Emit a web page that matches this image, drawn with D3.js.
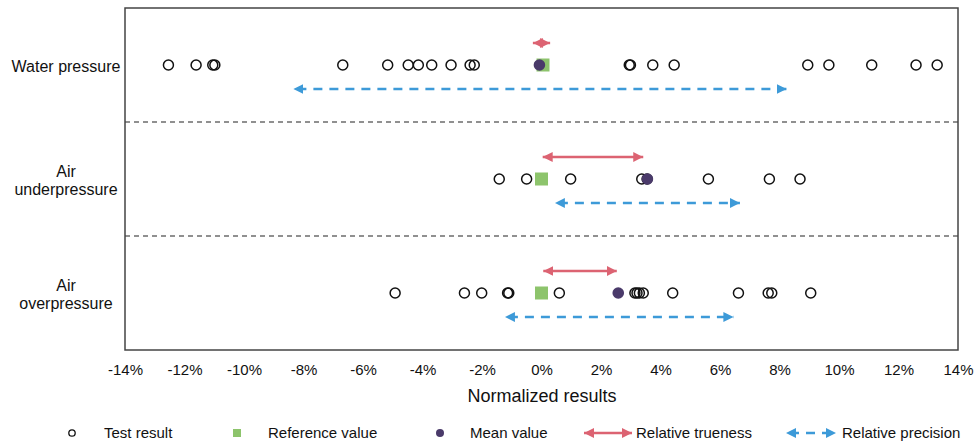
<!DOCTYPE html>
<html><head><meta charset="utf-8">
<script src="https://cdn.jsdelivr.net/npm/d3@7"></script>
<style>
body{margin:0;background:#fff;}
text{font-family:"Liberation Sans",Arial,sans-serif;fill:#111;}
</style></head>
<body><svg id="c" width="974" height="443"></svg>
<script>
const categories = ["Water pressure","Air underpressure","Air overpressure"];
const categoryLines = [["Water pressure"],["Air","underpressure"],["Air","overpressure"]];
const testResults = [
  [-12.54,-11.61,-11.05,-10.98,-6.68,-5.17,-4.48,-4.14,-3.69,-3.04,-2.40,-2.26,2.95,2.99,3.74,4.46,8.95,9.66,11.10,12.59,13.30],
  [-1.42,-0.50,0.98,3.37,3.55,5.61,7.66,8.69],
  [-4.92,-2.59,-2.01,-1.14,-1.10,0.60,3.14,3.21,3.29,3.42,4.41,6.62,7.62,7.74,9.05]
];
const referenceValues = [0.05,0.0,0.0];
const meanValues = [-0.07,3.56,2.58];
const truenessRange = [[-0.29,0.29],[0.04,3.42],[0.06,2.53]];
const precisionRange = [[-8.34,8.24],[0.45,6.67],[-1.23,6.45]];
const xTicks = [-14,-12,-10,-8,-6,-4,-2,0,2,4,6,8,10,12,14];
const legendItems = ["Test result","Reference value","Mean value","Relative trueness","Relative precision"];

const red = "#dc6372", blue = "#3d9ad8", green = "#8dc46c", purple = "#4a3a6a";
const svg = d3.select("#c");
const x = d3.scaleLinear().domain([-14,14]).range([125,958]);
const y = d3.scaleBand().domain(categories).range([8,350]);
const yc = c => y(c) + y.bandwidth()/2;

const defs = svg.append("defs");
function marker(id,color,orient){
  defs.append("marker").attr("id",id).attr("viewBox","0 0 10 10").attr("refX",10).attr("refY",5)
    .attr("markerWidth",4).attr("markerHeight",4).attr("markerUnits","strokeWidth").attr("orient",orient)
    .append("path").attr("d","M0,0L10,5L0,10z").attr("fill",color);
}
marker("rE",red,"auto"); marker("rS",red,"auto-start-reverse");
marker("bE",blue,"auto"); marker("bS",blue,"auto-start-reverse");

// separators
categories.slice(1).forEach(c=>{
  svg.append("line").attr("x1",125).attr("x2",958).attr("y1",y(c)).attr("y2",y(c))
    .attr("stroke","#222").attr("stroke-width",1.2).attr("stroke-dasharray","5,4");
});

// category labels
categories.forEach((c,i)=>{
  const lines = categoryLines[i];
  const t = svg.append("text").attr("text-anchor","middle").attr("font-size",16);
  const y0 = yc(c) + 6.5 - (lines.length-1)*8.5;
  lines.forEach((l,j)=>t.append("tspan").attr("x",66).attr("y",y0 + j*18).text(l));
});

categories.forEach((c,i)=>{
  const cy = yc(c);
  // trueness
  svg.append("line").attr("x1",x(truenessRange[i][0])).attr("x2",x(truenessRange[i][1]))
    .attr("y1",cy-22).attr("y2",cy-22).attr("stroke",red).attr("stroke-width",2.5)
    .attr("marker-start","url(#rS)").attr("marker-end","url(#rE)");
  // precision
  svg.append("line").attr("x1",x(precisionRange[i][0])).attr("x2",x(precisionRange[i][1]))
    .attr("y1",cy+24).attr("y2",cy+24).attr("stroke",blue).attr("stroke-width",2.5)
    .attr("stroke-dasharray","9,7").attr("stroke-dashoffset",-4)
    .attr("marker-start","url(#bS)").attr("marker-end","url(#bE)");
  // reference square
  svg.append("rect").attr("x",x(referenceValues[i])-6.5).attr("y",cy-6.5).attr("width",13).attr("height",13).attr("fill",green);
  // test results
  svg.selectAll(null).data(testResults[i]).enter().append("circle")
    .attr("cx",d=>x(d)).attr("cy",cy).attr("r",5).attr("fill","none").attr("stroke","#111").attr("stroke-width",1.5);
  // mean
  svg.append("circle").attr("cx",x(meanValues[i])).attr("cy",cy).attr("r",5.8).attr("fill",purple);
});

// frame
svg.append("rect").attr("x",125).attr("y",8).attr("width",833).attr("height",342)
  .attr("fill","none").attr("stroke","#444").attr("stroke-width",1.5);

// axis
const ax = svg.append("g").attr("transform","translate(0,350)")
  .call(d3.axisBottom(x).tickValues(xTicks).tickSize(0).tickPadding(14).tickFormat(d=>d+"%"));
ax.select(".domain").remove();
ax.selectAll("text").attr("font-size",15).attr("font-family","Liberation Sans, Arial, sans-serif").attr("fill","#111");

svg.append("text").attr("x",542).attr("y",402).attr("text-anchor","middle").attr("font-size",18).text("Normalized results");

// legend
const ly = 433;
const lg = svg.append("g");
lg.append("circle").attr("cx",72).attr("cy",ly).attr("r",3.2).attr("fill","none").attr("stroke","#111").attr("stroke-width",1.3);
lg.append("rect").attr("x",233).attr("y",ly-4).attr("width",8).attr("height",8).attr("fill",green);
lg.append("circle").attr("cx",440).attr("cy",ly).attr("r",4).attr("fill",purple);
lg.append("line").attr("x1",584).attr("x2",632).attr("y1",ly).attr("y2",ly).attr("stroke",red).attr("stroke-width",2.5)
  .attr("marker-start","url(#rS)").attr("marker-end","url(#rE)");
lg.append("line").attr("x1",786).attr("x2",836).attr("y1",ly).attr("y2",ly).attr("stroke",blue).attr("stroke-width",2.5)
  .attr("stroke-dasharray","9,7").attr("stroke-dashoffset",-4)
  .attr("marker-start","url(#bS)").attr("marker-end","url(#bE)");
const lx = [104,268,470,636,842];
legendItems.forEach((t,i)=>lg.append("text").attr("x",lx[i]).attr("y",ly+5).attr("font-size",15).text(t));
</script></body></html>
